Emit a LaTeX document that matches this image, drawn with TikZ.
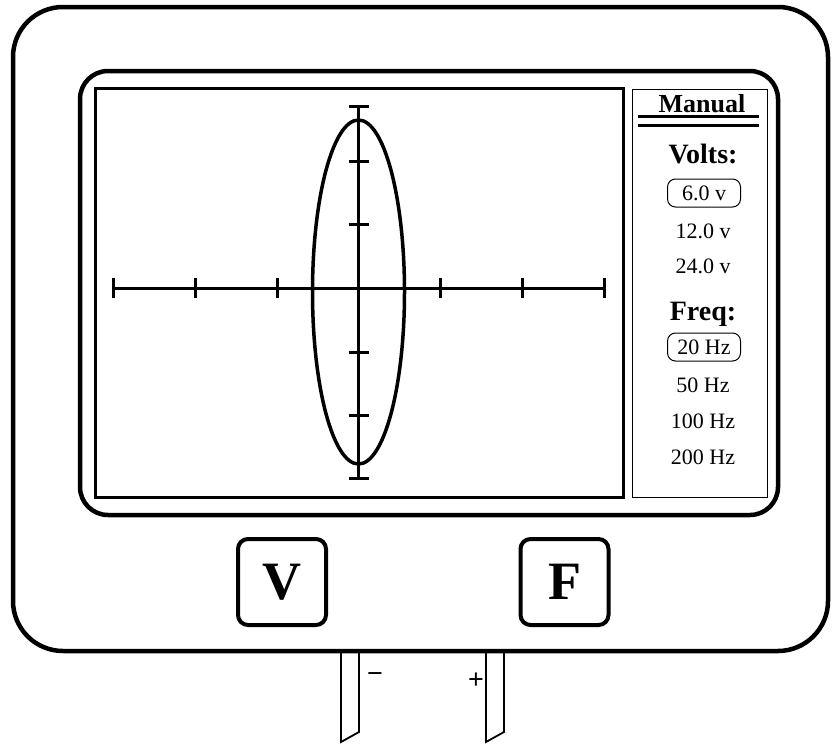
\documentclass[tikz,border=0pt]{standalone}
\usepackage{fontspec}
\setmainfont{Liberation Serif}
\newfontfamily\sansf{Liberation Sans}
\begin{document}
\begin{tikzpicture}[x=1pt,y=-1pt,
  outerframe/.style={line width=4.5pt, rounded corners=50pt},
  innerframe/.style={line width=4.5pt, rounded corners=28pt},
  screenbox/.style={line width=3pt},
  panelbox/.style={line width=1pt},
  axisline/.style={line width=3pt},
  trace/.style={line width=3.5pt},
  probe/.style={line width=1.8pt, line join=miter},
  heading/.style={font=\fontsize{28}{32}\selectfont\bfseries, anchor=base},
  title/.style={font=\fontsize{26}{30}\selectfont\bfseries, anchor=base},
  value/.style={font=\fontsize{22}{26}\selectfont, anchor=base},
  selbox/.style={draw, line width=1pt, rounded corners=8pt, minimum width=73pt, minimum height=28pt, inner sep=0pt, font=\fontsize{22}{26}\selectfont},
  button/.style={draw, line width=4pt, rounded corners=10pt, minimum width=88pt, minimum height=86pt, inner sep=0pt, font=\fontsize{54}{60}\selectfont\bfseries},
  sign/.style={font=\sansf\fontsize{27}{30}\selectfont, inner sep=0pt}
]
\useasboundingbox (0,0) rectangle (832,744);
% probes
\draw[probe] (341,651) -- (341,742) -- (359,732) -- (359,651);
\draw[probe] (486,651) -- (486,742) -- (504,732) -- (504,651);
% outer case
\draw[outerframe, fill=white] (13,7) rectangle (828,651);
% inner bezel
\draw[innerframe] (80,71) rectangle (778,515);
% screen
\draw[screenbox] (95,88) rectangle (623,497);
% panel
\draw[panelbox] (632,89) rectangle (767,497);
% axes
\draw[axisline] (113,288) -- (604,288);
\foreach \x in {113,195,277,440,522,604}
  \draw[axisline] (\x,278) -- (\x,298);
\draw[axisline] (358.5,106) -- (358.5,478);
\foreach \y in {106,161,224,352,415,478}
  \draw[axisline] (348.5,\y) -- (368.5,\y);
% trace
\draw[trace] (358.5,292) ellipse [x radius=46, y radius=172];
% panel texts
\node[title] (manual) at (702,112) {Manual};
\draw[line width=3pt] (638,116) -- (759,116);
\draw[line width=3pt] (638,125) -- (759,125);
\node[heading] (volts) at (703,163) {Volts:};
\node[selbox] (v6) at (704,193) {6.0 v};
\node[value] (v12) at (703,238) {12.0 v};
\node[value] (v24) at (703,273) {24.0 v};
\node[heading] (freq) at (703,320) {Freq:};
\node[selbox] (f20) at (704,347) {20 Hz};
\node[value] (f50) at (703,392) {50 Hz};
\node[value] (f100) at (703,428) {100 Hz};
\node[value] (f200) at (703,464) {200 Hz};
% buttons
\node[button] (bv) at (282,582) {V};
\node[button] (bf) at (564.5,582) {F};
% probe signs
\node[sign] (minus) at (375,678) {−};
\node[sign] (plus) at (476,681) {+};
\end{tikzpicture}
\end{document}
